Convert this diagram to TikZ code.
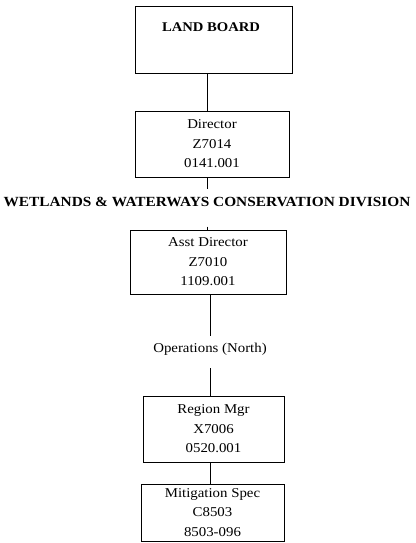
\documentclass[tikz,border=0pt]{standalone}
\usepackage{fontspec}
\setmainfont{Liberation Serif}[FakeStretch=1.1]
\tikzset{every picture/.style={line width=1pt}}
\tikzset{
  postbox/.style={draw, align=center, inner sep=0pt, font=\fontsize{13.5}{19.5}\selectfont},
  unitlabel/.style={inner sep=0pt, align=center}
}

\begin{document}
\begin{tikzpicture}[x=1pt,y=1pt,yscale=-1,xscale=1]
\useasboundingbox (0,0) rectangle (415,543);

%Shape: Box [board]
\node [postbox, minimum width=157, minimum height=66] (board) at (213.5,40) {};
% Text Node
\node [font=\fontsize{13.3}{16}\selectfont\bfseries, anchor=center] (boardtxt) at (211,27) {LAND BOARD};

%Shape: Box [director]
\node [postbox, minimum width=154, minimum height=66] (dir) at (212,144) {Director\\Z7014\\0141.001};

% Text Node [division]
\node [unitlabel, font=\fontsize{13.95}{16}\selectfont\bfseries, text height=17.5, text depth=19.5] (div) at (207,207.5) {WETLANDS \& WATERWAYS CONSERVATION DIVISION};

%Shape: Box [asst director]
\node [postbox, minimum width=156, minimum height=64] (asst) at (208,262) {Asst Director\\Z7010\\1109.001};

% Text Node [section]
\node [unitlabel, font=\fontsize{13.5}{16}\selectfont, text height=16, text depth=15] (ops) at (210,352) {Operations (North)};

%Shape: Box [region mgr]
\node [postbox, minimum width=141, minimum height=66] (rmgr) at (213.5,429) {Region Mgr\\X7006\\0520.001};

%Shape: Box [mitigation spec]
\node [postbox, minimum width=143, minimum height=57] (mspec) at (212.5,512.5) {Mitigation Spec\\C8503\\8503-096};

%Straight Lines
\draw (board.south -| div.north) -- (dir.north -| div.north);
\draw (dir.south -| div.north) -- (div.north);
\draw (div.south) -- (asst.north -| div.south);
\draw (asst.south -| ops.north) -- (ops.north);
\draw (ops.south) -- (rmgr.north -| ops.south);
\draw (rmgr.south -| ops.south) -- (mspec.north -| ops.south);

\end{tikzpicture}
\end{document}
